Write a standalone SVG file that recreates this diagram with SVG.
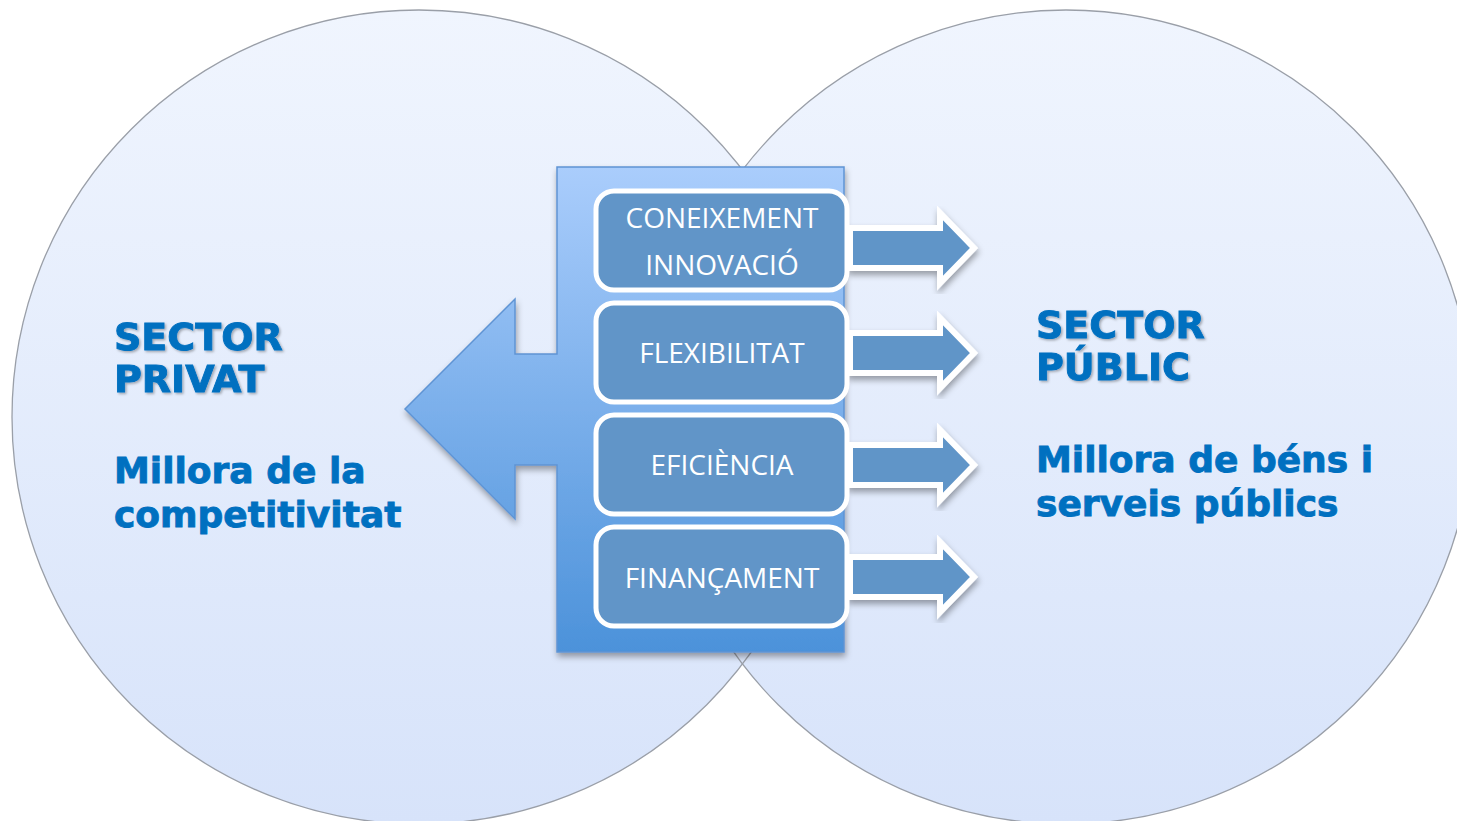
<svg xmlns="http://www.w3.org/2000/svg" width="1457" height="821" viewBox="0 0 1457 821">
<defs>
<linearGradient id="gCircle" gradientUnits="userSpaceOnUse" x1="0" y1="10" x2="0" y2="824">
<stop offset="0" stop-color="#f0f5fe"/>
<stop offset="1" stop-color="#d7e3fa"/>
</linearGradient>
<linearGradient id="gCol" gradientUnits="userSpaceOnUse" x1="0" y1="167" x2="0" y2="652">
<stop offset="0" stop-color="#aacdfc"/>
<stop offset="1" stop-color="#4c92da"/>
</linearGradient>
<filter id="shadow" x="-10%" y="-10%" width="125%" height="125%">
<feDropShadow dx="1" dy="4" stdDeviation="3" flood-color="#000" flood-opacity="0.35"/>
</filter>
<filter id="tshadow" x="-5%" y="-20%" width="115%" height="150%">
<feDropShadow dx="1.5" dy="1.5" stdDeviation="1.2" flood-color="#000" flood-opacity="0.3"/>
</filter>
<polygon id="rarrow" points="850,-20 940,-20 940,-35 974,0 940,35 940,20 850,20"/>
</defs>
<style>
.circle{fill:url(#gCircle);}
.circleLine{fill:none;stroke:#9a9fa8;stroke-width:1.3;}
.box{fill:#6195c8;stroke:#ffffff;stroke-width:5;}
.boxText{font-family:"Open Sans","DejaVu Sans",sans-serif;font-size:28px;fill:#ffffff;text-anchor:middle;}
.ra{fill:#6195c8;stroke:#ffffff;stroke-width:6;stroke-linejoin:miter;}
.title{font-family:"DejaVu Sans",sans-serif;font-weight:bold;font-size:38px;fill:#0070c0;stroke:#0070c0;stroke-width:0.9;}
.sub{font-family:"DejaVu Sans",sans-serif;font-weight:bold;font-size:36px;fill:#0070c0;stroke:#0070c0;stroke-width:0.9;}
</style>
<rect x="0" y="0" width="1457" height="821" fill="#ffffff"/>
<g id="circle-privat">
<circle class="circle" cx="419" cy="417" r="407"/>
</g>
<g id="circle-public">
<circle class="circle" cx="1066" cy="417" r="407"/>
</g>
<g id="circle-outlines">
<circle class="circleLine" cx="419" cy="417" r="407"/>
<circle class="circleLine" cx="1066" cy="417" r="407"/>
</g>
<g id="column">
<path d="M557,167 L844,167 L844,652 L557,652 L557,465 L515,465 L515,519 L405,409 L515,299 L515,354 L557,354 Z" fill="url(#gCol)" stroke="#5f94d4" stroke-width="1.5" filter="url(#shadow)"/>
</g>
<g id="connectors">
<use href="#rarrow" class="ra" transform="translate(0,248)" filter="url(#shadow)"/>
<use href="#rarrow" class="ra" transform="translate(0,353)" filter="url(#shadow)"/>
<use href="#rarrow" class="ra" transform="translate(0,465)" filter="url(#shadow)"/>
<use href="#rarrow" class="ra" transform="translate(0,577)" filter="url(#shadow)"/>
</g>
<g id="box-coneixement">
<rect class="box" x="596" y="191" width="251" height="99" rx="18"/>
<text class="boxText" x="722" y="228">CONEIXEMENT</text>
<text class="boxText" x="722" y="275">INNOVACIÓ</text>
</g>
<g id="box-flexibilitat">
<rect class="box" x="596" y="303" width="251" height="99" rx="18"/>
<text class="boxText" x="722" y="363">FLEXIBILITAT</text>
</g>
<g id="box-eficiencia">
<rect class="box" x="596" y="415" width="251" height="99" rx="18"/>
<text class="boxText" x="722" y="475">EFICIÈNCIA</text>
</g>
<g id="box-financament">
<rect class="box" x="596" y="527" width="251" height="99" rx="18"/>
<text class="boxText" x="722" y="588">FINANÇAMENT</text>
</g>
<g id="label-privat">
<text class="title" x="114" y="350" filter="url(#tshadow)">SECTOR</text>
<text class="title" x="114" y="392" filter="url(#tshadow)">PRIVAT</text>
<text class="sub" x="114" y="483">Millora de la</text>
<text class="sub" x="114" y="527">competitivitat</text>
</g>
<g id="label-public">
<text class="title" x="1036" y="338" filter="url(#tshadow)">SECTOR</text>
<text class="title" x="1036" y="380" filter="url(#tshadow)">PÚBLIC</text>
<text class="sub" x="1036" y="472">Millora de béns i</text>
<text class="sub" x="1036" y="516">serveis públics</text>
</g>
</svg>
